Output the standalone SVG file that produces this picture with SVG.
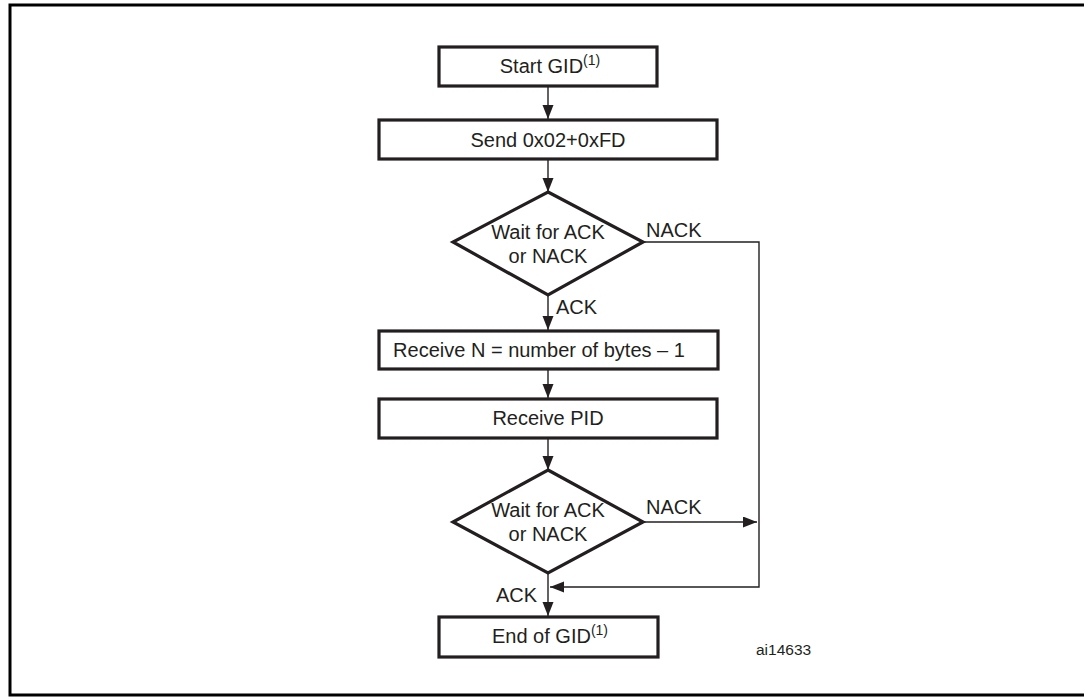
<svg xmlns="http://www.w3.org/2000/svg" width="1084" height="697" viewBox="0 0 1084 697">
<style>
.box{fill:#fff;stroke:#231f20;stroke-width:3.2}
.t{font-family:"Liberation Sans",Arial,Helvetica,sans-serif;font-size:20px;fill:#231f20}
.c{text-anchor:middle}
.sup{font-size:14px}
.conn{fill:none;stroke:#231f20;stroke-width:1.4}
.frame{fill:none;stroke:#000;stroke-width:3}
</style>
<defs>
<marker id="arr" markerUnits="userSpaceOnUse" markerWidth="15" markerHeight="12" refX="14" refY="5.5" orient="auto">
<path d="M0,0 L14,5.5 L0,11 z" fill="#231f20"/>
</marker>
</defs>
<rect width="1084" height="697" fill="#fff"/>
<path class="frame" d="M1084,5 H10 V695 H1084"/>
<g id="connectors">
<line class="conn" x1="548" y1="86" x2="548" y2="119" marker-end="url(#arr)"/>
<line class="conn" x1="548" y1="159" x2="548" y2="192" marker-end="url(#arr)"/>
<line class="conn" x1="548" y1="295" x2="548" y2="330" marker-end="url(#arr)"/>
<line class="conn" x1="548" y1="369" x2="548" y2="398" marker-end="url(#arr)"/>
<line class="conn" x1="548" y1="438" x2="548" y2="470" marker-end="url(#arr)"/>
<line class="conn" x1="548" y1="573" x2="548" y2="616" marker-end="url(#arr)"/>
<polyline class="conn" points="643,242 759,242 759,587 550,587" marker-end="url(#arr)"/>
<line class="conn" x1="643" y1="522" x2="757" y2="522" marker-end="url(#arr)"/>
<text class="t" x="646" y="237">NACK</text>
<text class="t" x="556" y="314">ACK</text>
<text class="t" x="646" y="514">NACK</text>
<text class="t" x="496" y="602">ACK</text>
</g>
<g id="start">
<rect class="box" x="439" y="47" width="218" height="39"/>
<text class="t c" x="550" y="73">Start GID<tspan class="sup" dy="-8">(1)</tspan></text>
</g>
<g id="send">
<rect class="box" x="379" y="120" width="338" height="39"/>
<text class="t c" x="548" y="147">Send 0x02+0xFD</text>
</g>
<g id="wait1">
<polygon class="box" points="548,192 643,242 548,295 453,242"/>
<text class="t c" x="548" y="239">Wait for ACK</text>
<text class="t c" x="548" y="263">or NACK</text>
</g>
<g id="receiveN">
<rect class="box" x="379" y="331" width="339" height="38"/>
<text class="t c" x="539" y="357">Receive N = number of bytes – 1</text>
</g>
<g id="receivePID">
<rect class="box" x="379" y="399" width="338" height="39"/>
<text class="t c" x="548" y="425">Receive PID</text>
</g>
<g id="wait2">
<polygon class="box" points="548,470 643,522 548,573 453,522"/>
<text class="t c" x="548" y="517">Wait for ACK</text>
<text class="t c" x="548" y="541">or NACK</text>
</g>
<g id="end">
<rect class="box" x="439" y="617" width="219" height="40"/>
<text class="t c" x="550" y="643">End of GID<tspan class="sup" dy="-8">(1)</tspan></text>
</g>
<text class="t" x="756" y="655" style="font-size:15.5px">ai14633</text>
</svg>
